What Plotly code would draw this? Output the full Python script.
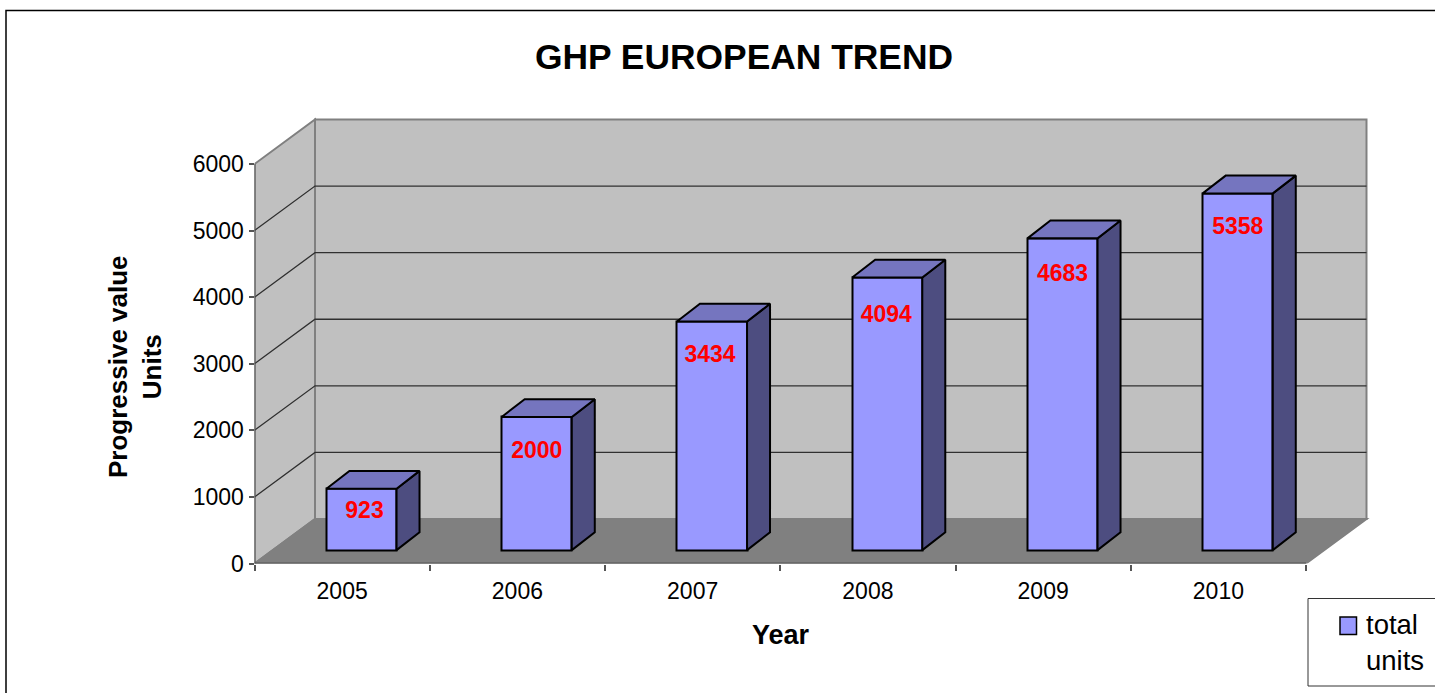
"""GHP European trend: Excel-style 3D column chart drawn on flat axes."""
import plotly.graph_objects as go

years = ["2005", "2006", "2007", "2008", "2009", "2010"]
total_units = [923, 2000, 3434, 4094, 4683, 5358]
y_ticks = [0, 1000, 2000, 3000, 4000, 5000, 6000]

WIDTH, HEIGHT = 1435, 693
FONT = "Liberation Sans, Arial, sans-serif"

# pixel frame of the front plane of the axes
LEFT_PX, RIGHT_PX = 254.5, 1306
BOTTOM_PX, TOP_PX = 563.5, 164
EXTRA_PX = 5  # room so wall outlines are not clipped

X_PER_PX = len(years) / (RIGHT_PX - LEFT_PX)
Y_PER_PX = max(y_ticks) / (BOTTOM_PX - TOP_PX)

# depth of the 3D box, in data units
DEPTH_X = 60.5 * X_PER_PX
DEPTH_Y = 44.5 * Y_PER_PX
BAR_WIDTH = 0.4
BAR_FRONT_X = 0.32  # how far back the bars' front faces stand
BAR_FRONT_Y = 0.3
BAR_DEPTH_X = 0.38
BAR_DEPTH_Y = 0.4
LABEL_DROP_PX = [24, 35, 35, 39, 37, 35]
LABEL_NUDGE_PX = [3, 0, -2, -1, 0, 0]

X0, X1 = -0.5, len(years) - 0.5
Y_MAX = max(y_ticks)

FRONT = "#9999FF"
TOP = "#7575BF"
SIDE = "#4D4D80"
WALL = "#C0C0C0"
FLOOR = "#808080"
EDGE = "#808080"
AXIS = "#555555"


def _path(points):
    return "M" + " L".join(f"{x},{y}" for x, y in points) + " Z"


def _wall(points, color):
    return dict(
        type="path", path=_path(points), xref="x", yref="y", layer="below",
        fillcolor=color, line=dict(color=EDGE, width=2),
    )


def _grid(points):
    return dict(
        type="path", path="M" + " L".join(f"{x},{y}" for x, y in points),
        xref="x", yref="y", layer="below", line=dict(color="#303030", width=1.3),
    )


def _paper_rect(x0, y0, x1, y1, **style):
    return dict(type="rect", xref="paper", yref="paper", x0=x0 / WIDTH, x1=x1 / WIDTH,
                y0=1 - y1 / HEIGHT, y1=1 - y0 / HEIGHT, **style)


shapes = [
    # page frame, runs off the right and bottom edge like the original crop
    _paper_rect(6, 10.5, WIDTH + 10, HEIGHT + 10, line=dict(color="black", width=1.5), layer="below"),
    _wall([(X0, 0), (X0, Y_MAX), (X0 + DEPTH_X, Y_MAX + DEPTH_Y), (X0 + DEPTH_X, DEPTH_Y)], WALL),
    _wall([(X0 + DEPTH_X, DEPTH_Y), (X1 + DEPTH_X, DEPTH_Y),
           (X1 + DEPTH_X, Y_MAX + DEPTH_Y), (X0 + DEPTH_X, Y_MAX + DEPTH_Y)], WALL),
    _wall([(X0, 0), (X1, 0), (X1 + DEPTH_X, DEPTH_Y), (X0 + DEPTH_X, DEPTH_Y)], FLOOR),
    # legend box and swatch
    _paper_rect(1308, 598.5, WIDTH + 10, 686, line=dict(color="#333333", width=1), fillcolor="white"),
    _paper_rect(1340, 617, 1356.5, 634.5, line=dict(color="black", width=1.5), fillcolor=FRONT),
]
for tick in y_ticks[1:-1]:
    shapes.append(_grid([(X0, tick), (X0 + DEPTH_X, tick + DEPTH_Y), (X1 + DEPTH_X, tick + DEPTH_Y)]))

positions = [i + BAR_FRONT_X * DEPTH_X for i in range(len(years))]
lift = BAR_FRONT_Y * DEPTH_Y
dx = BAR_DEPTH_X * DEPTH_X
dy = BAR_DEPTH_Y * DEPTH_Y

fig = go.Figure()
fig.add_trace(
    go.Bar(
        x=positions,
        y=total_units,
        base=lift,
        width=BAR_WIDTH,
        name="total units",
        showlegend=False,
        marker=dict(color=FRONT, line=dict(color="black", width=2)),
        hoverinfo="skip",
    )
)

for pos, value in zip(positions, total_units):
    left, right = pos - BAR_WIDTH / 2, pos + BAR_WIDTH / 2
    top = lift + value
    side = [(right, lift), (right + dx, lift + dy), (right + dx, top + dy), (right, top), (right, lift)]
    roof = [(left, top), (right, top), (right + dx, top + dy), (left + dx, top + dy), (left, top)]
    for face, color in ((side, SIDE), (roof, TOP)):
        fig.add_trace(
            go.Scatter(
                x=[p[0] for p in face],
                y=[p[1] for p in face],
                mode="lines",
                fill="toself",
                fillcolor=color,
                line=dict(color="black", width=2),
                showlegend=False,
                hoverinfo="skip",
            )
        )

# axis lines stop at the ticks, so they are traces and not axis.showline
fig.add_trace(
    go.Scatter(
        x=[X0, X0, X1], y=[Y_MAX, 0, 0], mode="lines", cliponaxis=False,
        line=dict(color=AXIS, width=2), showlegend=False, hoverinfo="skip",
    )
)

fig.add_trace(
    go.Scatter(
        x=[p + n * X_PER_PX for p, n in zip(positions, LABEL_NUDGE_PX)],
        y=[lift + v - drop * Y_PER_PX for v, drop in zip(total_units, LABEL_DROP_PX)],
        mode="text",
        text=[str(v) for v in total_units],
        textposition="middle center",
        textfont=dict(family=FONT, size=23, color="#FF0000", weight="bold"),
        showlegend=False,
        hoverinfo="skip",
    )
)

fig.update_layout(
    width=WIDTH,
    height=HEIGHT,
    margin=dict(l=0, r=0, t=0, b=0, autoexpand=False),
    paper_bgcolor="white",
    plot_bgcolor="rgba(0,0,0,0)",
    font=dict(family=FONT, color="black"),
    shapes=shapes,
    bargap=0,
    showlegend=False,
    title=dict(
        text="<b>GHP EUROPEAN TREND</b>", x=744 / WIDTH, y=1 - 57 / HEIGHT,
        xanchor="center", yanchor="middle", font=dict(size=35.4, family=FONT, color="black"),
    ),
    xaxis=dict(
        domain=[LEFT_PX / WIDTH, (RIGHT_PX + 60.5 + EXTRA_PX) / WIDTH],
        range=[X0, X1 + DEPTH_X + EXTRA_PX * X_PER_PX],
        tickmode="array",
        tickvals=list(range(len(years))),
        ticktext=years,
        ticks="",
        ticklabelstandoff=11,
        showgrid=False,
        zeroline=False,
        showline=False,
        tickfont=dict(size=23, color="black"),
        minor=dict(
            tickmode="array",
            tickvals=[i - 0.5 for i in range(len(years) + 1)],
            ticks="outside", ticklen=6, tickwidth=1.5, tickcolor=AXIS, showgrid=False,
        ),
    ),
    yaxis=dict(
        domain=[1 - BOTTOM_PX / HEIGHT, 1 - (TOP_PX - 44.5 - EXTRA_PX) / HEIGHT],
        range=[0, Y_MAX + DEPTH_Y + EXTRA_PX * Y_PER_PX],
        tickmode="array",
        tickvals=y_ticks,
        tickformat="d",
        ticks="outside",
        ticklen=5,
        tickwidth=1.5,
        tickcolor=AXIS,
        showgrid=False,
        zeroline=False,
        showline=False,
        tickfont=dict(size=23, color="black"),
    ),
    annotations=[
        dict(text="<b>Year</b>", xref="paper", yref="paper", x=781 / WIDTH, y=1 - 635 / HEIGHT,
             xanchor="center", yanchor="middle", showarrow=False, font=dict(size=27)),
        dict(text="<b>Progressive value<br>Units</b>", xref="paper", yref="paper",
             x=135 / WIDTH, y=1 - 367 / HEIGHT, xanchor="center", yanchor="middle",
             textangle=-90, showarrow=False, font=dict(size=26)),
        dict(text="total<br>units", xref="paper", yref="paper", x=1364.5 / WIDTH, y=1 - 642 / HEIGHT,
             xanchor="left", yanchor="middle", align="left", showarrow=False,
             font=dict(size=27.5), borderpad=0),
    ],
)

# the page's default body margin would push the picture 8px off the frame
fig.write_html(
    "out.html",
    config=dict(displayModeBar=False),
    post_script="document.body.style.margin = '0';",
)
